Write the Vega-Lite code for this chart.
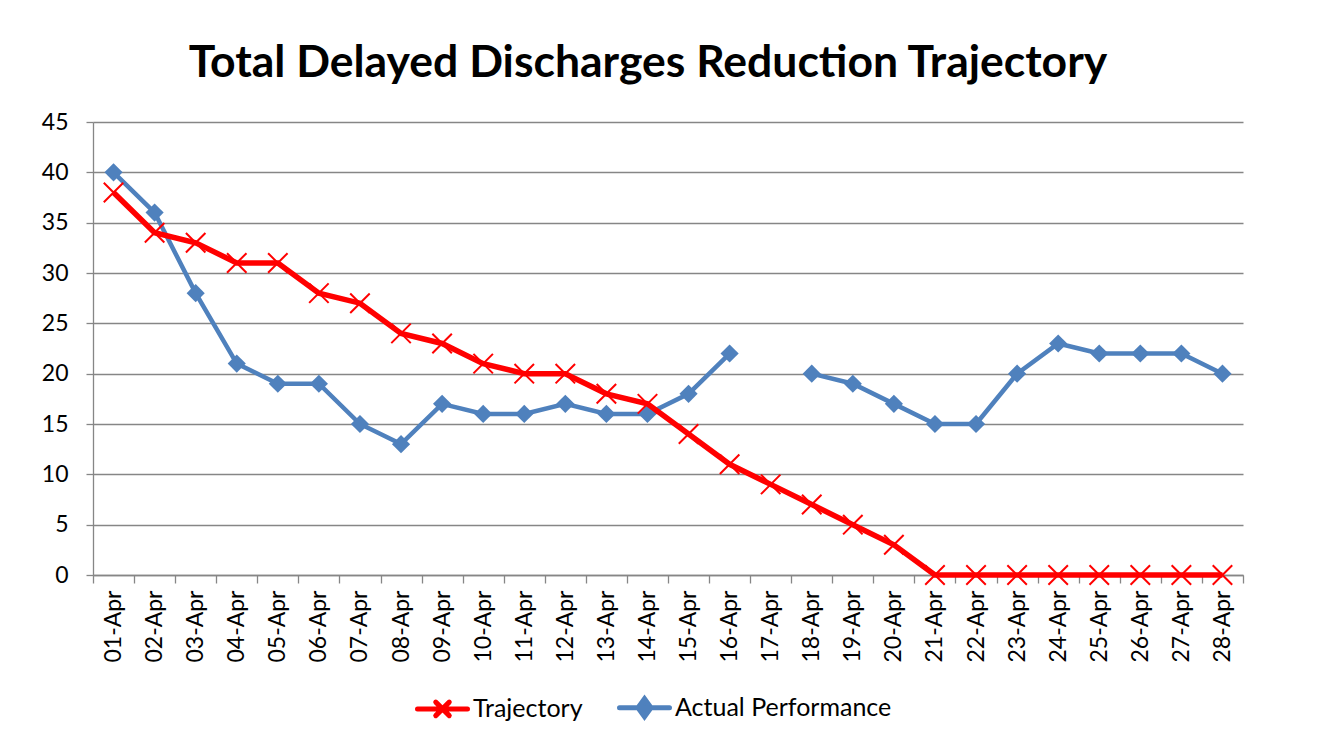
{
  "$schema": "https://vega.github.io/schema/vega-lite/v6.json",
  "autosize": {"type": "none"},
  "padding": {"left": 93, "top": 122, "right": 90, "bottom": 167},
  "width": 1150,
  "height": 453,
  "background": "white",
  "title": {
    "text": "Total Delayed Discharges Reduction Trajectory",
    "font": "Lato",
    "fontSize": 44.5,
    "fontWeight": "bold",
    "color": "black",
    "anchor": "middle",
    "dx": -20,
    "offset": 25
  },
  "config": {
    "view": {"stroke": null},
    "axis": {"labelFont": "Lato", "labelFontSize": 23, "labelColor": "black", "domainColor": "#868686", "tickColor": "#868686", "gridColor": "#868686", "domainWidth": 1.3, "tickWidth": 1.3, "gridWidth": 1.3}
  },
  "data": {
    "values": [
      {"date": "01-Apr", "series": "Trajectory", "value": 38},
      {"date": "02-Apr", "series": "Trajectory", "value": 34},
      {"date": "03-Apr", "series": "Trajectory", "value": 33},
      {"date": "04-Apr", "series": "Trajectory", "value": 31},
      {"date": "05-Apr", "series": "Trajectory", "value": 31},
      {"date": "06-Apr", "series": "Trajectory", "value": 28},
      {"date": "07-Apr", "series": "Trajectory", "value": 27},
      {"date": "08-Apr", "series": "Trajectory", "value": 24},
      {"date": "09-Apr", "series": "Trajectory", "value": 23},
      {"date": "10-Apr", "series": "Trajectory", "value": 21},
      {"date": "11-Apr", "series": "Trajectory", "value": 20},
      {"date": "12-Apr", "series": "Trajectory", "value": 20},
      {"date": "13-Apr", "series": "Trajectory", "value": 18},
      {"date": "14-Apr", "series": "Trajectory", "value": 17},
      {"date": "15-Apr", "series": "Trajectory", "value": 14},
      {"date": "16-Apr", "series": "Trajectory", "value": 11},
      {"date": "17-Apr", "series": "Trajectory", "value": 9},
      {"date": "18-Apr", "series": "Trajectory", "value": 7},
      {"date": "19-Apr", "series": "Trajectory", "value": 5},
      {"date": "20-Apr", "series": "Trajectory", "value": 3},
      {"date": "21-Apr", "series": "Trajectory", "value": 0},
      {"date": "22-Apr", "series": "Trajectory", "value": 0},
      {"date": "23-Apr", "series": "Trajectory", "value": 0},
      {"date": "24-Apr", "series": "Trajectory", "value": 0},
      {"date": "25-Apr", "series": "Trajectory", "value": 0},
      {"date": "26-Apr", "series": "Trajectory", "value": 0},
      {"date": "27-Apr", "series": "Trajectory", "value": 0},
      {"date": "28-Apr", "series": "Trajectory", "value": 0},
      {"date": "01-Apr", "series": "Actual Performance", "value": 40},
      {"date": "02-Apr", "series": "Actual Performance", "value": 36},
      {"date": "03-Apr", "series": "Actual Performance", "value": 28},
      {"date": "04-Apr", "series": "Actual Performance", "value": 21},
      {"date": "05-Apr", "series": "Actual Performance", "value": 19},
      {"date": "06-Apr", "series": "Actual Performance", "value": 19},
      {"date": "07-Apr", "series": "Actual Performance", "value": 15},
      {"date": "08-Apr", "series": "Actual Performance", "value": 13},
      {"date": "09-Apr", "series": "Actual Performance", "value": 17},
      {"date": "10-Apr", "series": "Actual Performance", "value": 16},
      {"date": "11-Apr", "series": "Actual Performance", "value": 16},
      {"date": "12-Apr", "series": "Actual Performance", "value": 17},
      {"date": "13-Apr", "series": "Actual Performance", "value": 16},
      {"date": "14-Apr", "series": "Actual Performance", "value": 16},
      {"date": "15-Apr", "series": "Actual Performance", "value": 18},
      {"date": "16-Apr", "series": "Actual Performance", "value": 22},
      {"date": "17-Apr", "series": "Actual Performance", "value": null},
      {"date": "18-Apr", "series": "Actual Performance", "value": 20},
      {"date": "19-Apr", "series": "Actual Performance", "value": 19},
      {"date": "20-Apr", "series": "Actual Performance", "value": 17},
      {"date": "21-Apr", "series": "Actual Performance", "value": 15},
      {"date": "22-Apr", "series": "Actual Performance", "value": 15},
      {"date": "23-Apr", "series": "Actual Performance", "value": 20},
      {"date": "24-Apr", "series": "Actual Performance", "value": 23},
      {"date": "25-Apr", "series": "Actual Performance", "value": 22},
      {"date": "26-Apr", "series": "Actual Performance", "value": 22},
      {"date": "27-Apr", "series": "Actual Performance", "value": 22},
      {"date": "28-Apr", "series": "Actual Performance", "value": 20}
    ]
  },
  "encoding": {
    "x": {
      "field": "date",
      "type": "ordinal",
      "sort": null,
      "scale": {"type": "band", "paddingInner": 0, "paddingOuter": 0},
      "axis": {"title": null, "labelAngle": 270, "tickBand": "extent", "tickSize": 8, "labelPadding": 7, "grid": false}
    },
    "y": {
      "field": "value",
      "type": "quantitative",
      "scale": {"domain": [0, 45], "nice": false, "zero": true},
      "axis": {"title": null, "values": [0, 5, 10, 15, 20, 25, 30, 35, 40, 45], "grid": true, "tickSize": 7, "labelPadding": 18}
    },
    "color": {
      "field": "series",
      "type": "nominal",
      "sort": ["Trajectory", "Actual Performance"],
      "scale": {"domain": ["Trajectory", "Actual Performance"], "range": ["#FF0000", "#4F81BD"]},
      "legend": {
        "title": null,
        "orient": "none",
        "direction": "horizontal",
        "legendX": 322,
        "legendY": 558,
        "labelFont": "Lato",
        "labelFontSize": 25,
        "labelLimit": 500,
        "labelColor": "black",
        "labelOffset": 3,
        "columnPadding": 26,
        "symbolSize": 2500,
        "symbolStrokeWidth": 5,
        "encode": {
          "symbols": {
            "update": {
              "shape": {"signal": "datum.value === 'Trajectory' ? 'M-1,0H1M-0.27,-0.27L0.27,0.27M-0.27,0.27L0.27,-0.27' : 'M-1,0H1M0,-0.36L0.26,0L0,0.36L-0.26,0Z'"},
              "fill": {"signal": "datum.value === 'Trajectory' ? 'transparent' : '#4F81BD'"},
              "stroke": {"signal": "datum.value === 'Trajectory' ? '#FF0000' : '#4F81BD'"},
              "strokeWidth": {"value": 5},
              "strokeCap": {"value": "round"}
            }
          }
        }
      }
    }
  },
  "layer": [
    {
      "transform": [{"filter": "datum.series === 'Actual Performance'"}],
      "mark": {"type": "line", "strokeWidth": 4.5, "invalid": "break-paths-show-domains"}
    },
    {
      "transform": [{"filter": "datum.series === 'Actual Performance' && datum.value != null"}],
      "mark": {"type": "point", "shape": "diamond", "filled": true, "size": 330, "opacity": 1}
    },
    {
      "transform": [{"filter": "datum.series === 'Trajectory'"}],
      "mark": {"type": "line", "strokeWidth": 5.5}
    },
    {
      "transform": [{"filter": "datum.series === 'Trajectory'"}],
      "mark": {"type": "point", "shape": "M-1,-1L1,1M-1,1L1,-1", "filled": false, "size": 380, "strokeWidth": 2, "opacity": 1}
    }
  ]
}
